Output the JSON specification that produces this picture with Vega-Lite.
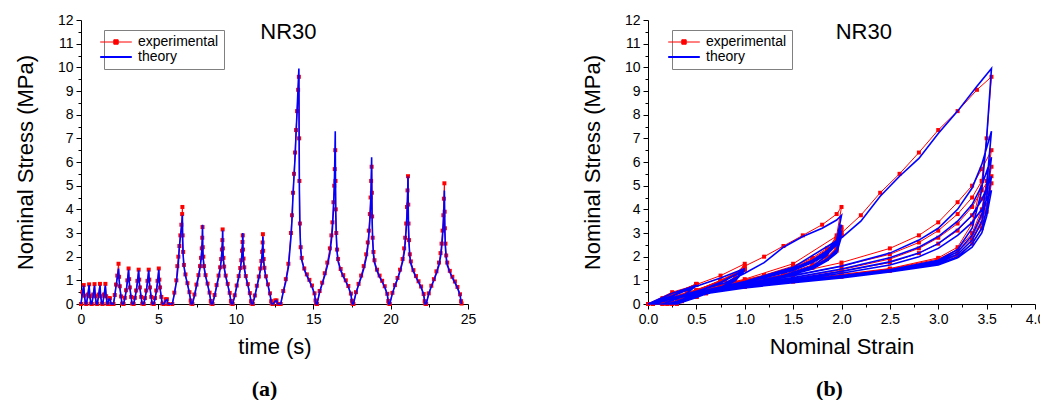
{
"$schema": "https://vega.github.io/schema/vega-lite/v6.json",
"padding": {"left": 14, "top": 13, "right": 0, "bottom": 0},
"background": "white",
"spacing": 105,
"config": {
 "view": {"stroke": null},
 "font": "Liberation Sans",
 "axis": {"domainColor": "black", "tickColor": "black", "labelColor": "black", "titleColor": "black", "labelFont": "Liberation Sans", "titleFont": "Liberation Sans", "labelFontSize": 14, "titleFontSize": 22, "titleFontWeight": "normal", "grid": false, "labelPadding": 3, "labelOverlap": false, "labelFlush": false, "tickSize": 5},
 "axisY": {"titlePadding": 20},
 "axisX": {"titlePadding": 10},
 "legend": {"orient": "none", "legendY": 10, "title": null, "strokeColor": "#808080", "fillColor": "white", "padding": 5, "labelFont": "Liberation Sans", "labelFontSize": 14, "labelColor": "black", "symbolSize": 1000, "symbolStrokeWidth": 1.5, "rowPadding": 1, "labelOffset": 15, "labelLimit": 200}
},
"resolve": {"scale": {"color": "independent"}, "legend": {"color": "independent"}},
"datasets": {"d": [
{"t":0,"e":0,"th":0,"ex":0},
{"t":0.088,"e":0.25,"th":0.45,"ex":0.5},
{"t":0.175,"e":0.5,"th":0.78,"ex":0.8},
{"t":0.228,"e":0.35,"th":0.3,"ex":0.35},
{"t":0.298,"e":0.15,"th":0,"ex":0.02},
{"t":0.35,"e":0,"th":0,"ex":0},
{"t":0.438,"e":0.25,"th":0.35,"ex":0.4},
{"t":0.525,"e":0.5,"th":0.8,"ex":0.83},
{"t":0.578,"e":0.35,"th":0.28,"ex":0.33},
{"t":0.648,"e":0.15,"th":0,"ex":0.02},
{"t":0.7,"e":0,"th":0,"ex":0},
{"t":0.788,"e":0.25,"th":0.35,"ex":0.4},
{"t":0.875,"e":0.5,"th":0.78,"ex":0.84},
{"t":0.928,"e":0.35,"th":0.28,"ex":0.33},
{"t":0.998,"e":0.15,"th":0,"ex":0.02},
{"t":1.05,"e":0,"th":0,"ex":0},
{"t":1.138,"e":0.25,"th":0.35,"ex":0.4},
{"t":1.225,"e":0.5,"th":0.79,"ex":0.85},
{"t":1.278,"e":0.35,"th":0.28,"ex":0.33},
{"t":1.348,"e":0.15,"th":0,"ex":0.02},
{"t":1.4,"e":0,"th":0,"ex":0},
{"t":1.488,"e":0.25,"th":0.35,"ex":0.4},
{"t":1.575,"e":0.5,"th":0.78,"ex":0.85},
{"t":1.628,"e":0.35,"th":0.28,"ex":0.33},
{"t":1.698,"e":0.15,"th":0,"ex":0.02},
{"t":1.75,"e":0,"th":0,"ex":0},
{"t":1.8,"e":0.15,"th":0.2,"ex":0.25},
{"t":1.87,"e":0.2,"th":0.22,"ex":0.24},
{"t":1.95,"e":0.05,"th":0,"ex":0},
{"t":2.1,"e":0,"th":0,"ex":0},
{"t":2.181,"e":0.25,"th":0.33,"ex":0.38},
{"t":2.263,"e":0.5,"th":0.75,"ex":0.82},
{"t":2.344,"e":0.75,"th":1.1,"ex":1.2},
{"t":2.425,"e":1,"th":1.5,"ex":1.7},
{"t":2.458,"e":0.9,"th":1.05,"ex":1.15},
{"t":2.506,"e":0.75,"th":0.7,"ex":0.75},
{"t":2.588,"e":0.5,"th":0.3,"ex":0.32},
{"t":2.653,"e":0.3,"th":0,"ex":0.02},
{"t":2.75,"e":0,"th":0,"ex":0},
{"t":2.831,"e":0.25,"th":0.22,"ex":0.26},
{"t":2.913,"e":0.5,"th":0.52,"ex":0.58},
{"t":2.994,"e":0.75,"th":0.92,"ex":1.0},
{"t":3.075,"e":1,"th":1.45,"ex":1.5},
{"t":3.108,"e":0.9,"th":1.0,"ex":1.05},
{"t":3.156,"e":0.75,"th":0.68,"ex":0.7},
{"t":3.238,"e":0.5,"th":0.28,"ex":0.3},
{"t":3.303,"e":0.3,"th":0,"ex":0.02},
{"t":3.4,"e":0,"th":0,"ex":0},
{"t":3.481,"e":0.25,"th":0.22,"ex":0.26},
{"t":3.563,"e":0.5,"th":0.52,"ex":0.57},
{"t":3.644,"e":0.75,"th":0.9,"ex":0.98},
{"t":3.725,"e":1,"th":1.42,"ex":1.45},
{"t":3.758,"e":0.9,"th":0.98,"ex":1.03},
{"t":3.806,"e":0.75,"th":0.66,"ex":0.7},
{"t":3.888,"e":0.5,"th":0.27,"ex":0.3},
{"t":3.953,"e":0.3,"th":0,"ex":0.02},
{"t":4.05,"e":0,"th":0,"ex":0},
{"t":4.131,"e":0.25,"th":0.21,"ex":0.25},
{"t":4.213,"e":0.5,"th":0.51,"ex":0.57},
{"t":4.294,"e":0.75,"th":0.9,"ex":0.98},
{"t":4.375,"e":1,"th":1.42,"ex":1.45},
{"t":4.408,"e":0.9,"th":0.98,"ex":1.03},
{"t":4.456,"e":0.75,"th":0.66,"ex":0.7},
{"t":4.538,"e":0.5,"th":0.27,"ex":0.3},
{"t":4.603,"e":0.3,"th":0,"ex":0.02},
{"t":4.7,"e":0,"th":0,"ex":0},
{"t":4.781,"e":0.25,"th":0.21,"ex":0.25},
{"t":4.863,"e":0.5,"th":0.51,"ex":0.57},
{"t":4.944,"e":0.75,"th":0.9,"ex":0.98},
{"t":5.025,"e":1,"th":1.45,"ex":1.5},
{"t":5.058,"e":0.9,"th":0.98,"ex":1.03},
{"t":5.106,"e":0.75,"th":0.66,"ex":0.7},
{"t":5.188,"e":0.5,"th":0.27,"ex":0.3},
{"t":5.253,"e":0.3,"th":0,"ex":0.02},
{"t":5.35,"e":0,"th":0,"ex":0},
{"t":5.47,"e":0.15,"th":0.15,"ex":0.2},
{"t":5.55,"e":0.2,"th":0.18,"ex":0.2},
{"t":5.63,"e":0.05,"th":0,"ex":0},
{"t":5.9,"e":0,"th":0,"ex":0},
{"t":6.03,"e":0.4,"th":0.42,"ex":0.48},
{"t":6.16,"e":0.8,"th":0.9,"ex":1.0},
{"t":6.225,"e":1.0,"th":1.3,"ex":1.6},
{"t":6.29,"e":1.2,"th":1.75,"ex":2.0},
{"t":6.355,"e":1.4,"th":2.4,"ex":2.45},
{"t":6.42,"e":1.6,"th":2.85,"ex":2.9},
{"t":6.485,"e":1.8,"th":3.2,"ex":3.35},
{"t":6.534,"e":1.95,"th":3.55,"ex":3.8},
{"t":6.55,"e":2.0,"th":3.75,"ex":4.1},
{"t":6.566,"e":1.95,"th":2.7,"ex":2.9},
{"t":6.599,"e":1.85,"th":2.05,"ex":2.2},
{"t":6.648,"e":1.7,"th":1.6,"ex":1.65},
{"t":6.745,"e":1.4,"th":1.2,"ex":1.25},
{"t":6.875,"e":1.0,"th":0.85,"ex":0.88},
{"t":7.005,"e":0.6,"th":0.45,"ex":0.5},
{"t":7.086,"e":0.35,"th":0.12,"ex":0.15},
{"t":7.119,"e":0.25,"th":0,"ex":0.02},
{"t":7.2,"e":0,"th":0,"ex":0},
{"t":7.33,"e":0.4,"th":0.35,"ex":0.4},
{"t":7.46,"e":0.8,"th":0.75,"ex":0.82},
{"t":7.59,"e":1.2,"th":1.15,"ex":1.22},
{"t":7.688,"e":1.5,"th":1.5,"ex":1.6},
{"t":7.753,"e":1.7,"th":1.85,"ex":1.95},
{"t":7.801,"e":1.85,"th":2.25,"ex":2.35},
{"t":7.834,"e":1.95,"th":2.7,"ex":2.8},
{"t":7.85,"e":2.0,"th":3.35,"ex":3.25},
{"t":7.866,"e":1.95,"th":2.3,"ex":2.4},
{"t":7.899,"e":1.85,"th":1.9,"ex":2.0},
{"t":7.948,"e":1.7,"th":1.55,"ex":1.6},
{"t":8.045,"e":1.4,"th":1.18,"ex":1.22},
{"t":8.175,"e":1.0,"th":0.83,"ex":0.86},
{"t":8.305,"e":0.6,"th":0.44,"ex":0.48},
{"t":8.386,"e":0.35,"th":0.1,"ex":0.13},
{"t":8.419,"e":0.25,"th":0,"ex":0.02},
{"t":8.5,"e":0,"th":0,"ex":0},
{"t":8.63,"e":0.4,"th":0.34,"ex":0.38},
{"t":8.76,"e":0.8,"th":0.74,"ex":0.8},
{"t":8.89,"e":1.2,"th":1.13,"ex":1.2},
{"t":8.988,"e":1.5,"th":1.47,"ex":1.55},
{"t":9.053,"e":1.7,"th":1.8,"ex":1.9},
{"t":9.101,"e":1.85,"th":2.2,"ex":2.3},
{"t":9.134,"e":1.95,"th":2.62,"ex":2.7},
{"t":9.15,"e":2.0,"th":3.1,"ex":3.15},
{"t":9.166,"e":1.95,"th":2.25,"ex":2.35},
{"t":9.199,"e":1.85,"th":1.88,"ex":1.95},
{"t":9.248,"e":1.7,"th":1.53,"ex":1.58},
{"t":9.345,"e":1.4,"th":1.17,"ex":1.2},
{"t":9.475,"e":1.0,"th":0.82,"ex":0.85},
{"t":9.605,"e":0.6,"th":0.43,"ex":0.47},
{"t":9.686,"e":0.35,"th":0.1,"ex":0.13},
{"t":9.719,"e":0.25,"th":0,"ex":0.02},
{"t":9.8,"e":0,"th":0,"ex":0},
{"t":9.93,"e":0.4,"th":0.33,"ex":0.37},
{"t":10.06,"e":0.8,"th":0.73,"ex":0.78},
{"t":10.19,"e":1.2,"th":1.12,"ex":1.18},
{"t":10.288,"e":1.5,"th":1.45,"ex":1.52},
{"t":10.353,"e":1.7,"th":1.78,"ex":1.85},
{"t":10.401,"e":1.85,"th":2.15,"ex":2.25},
{"t":10.434,"e":1.95,"th":2.55,"ex":2.62},
{"t":10.45,"e":2.0,"th":3.0,"ex":2.9},
{"t":10.466,"e":1.95,"th":2.2,"ex":2.3},
{"t":10.499,"e":1.85,"th":1.85,"ex":1.92},
{"t":10.548,"e":1.7,"th":1.5,"ex":1.55},
{"t":10.645,"e":1.4,"th":1.15,"ex":1.18},
{"t":10.775,"e":1.0,"th":0.81,"ex":0.84},
{"t":10.905,"e":0.6,"th":0.42,"ex":0.46},
{"t":10.986,"e":0.35,"th":0.1,"ex":0.12},
{"t":11.019,"e":0.25,"th":0,"ex":0.02},
{"t":11.1,"e":0,"th":0,"ex":0},
{"t":11.23,"e":0.4,"th":0.33,"ex":0.36},
{"t":11.36,"e":0.8,"th":0.72,"ex":0.77},
{"t":11.49,"e":1.2,"th":1.1,"ex":1.16},
{"t":11.588,"e":1.5,"th":1.42,"ex":1.5},
{"t":11.653,"e":1.7,"th":1.75,"ex":1.82},
{"t":11.701,"e":1.85,"th":2.1,"ex":2.2},
{"t":11.734,"e":1.95,"th":2.5,"ex":2.6},
{"t":11.75,"e":2.0,"th":2.85,"ex":2.95},
{"t":11.766,"e":1.95,"th":2.15,"ex":2.25},
{"t":11.799,"e":1.85,"th":1.82,"ex":1.9},
{"t":11.848,"e":1.7,"th":1.48,"ex":1.53},
{"t":11.945,"e":1.4,"th":1.14,"ex":1.17},
{"t":12.075,"e":1.0,"th":0.8,"ex":0.83},
{"t":12.205,"e":0.6,"th":0.42,"ex":0.45},
{"t":12.286,"e":0.35,"th":0.1,"ex":0.12},
{"t":12.319,"e":0.25,"th":0,"ex":0.02},
{"t":12.4,"e":0,"th":0,"ex":0},
{"t":12.55,"e":0.15,"th":0.12,"ex":0.15},
{"t":12.63,"e":0.2,"th":0.15,"ex":0.15},
{"t":12.72,"e":0.05,"th":0,"ex":0},
{"t":12.9,"e":0,"th":0,"ex":0},
{"t":13.066,"e":0.5,"th":0.5,"ex":0.55},
{"t":13.231,"e":1.0,"th":0.95,"ex":1.05},
{"t":13.397,"e":1.5,"th":1.55,"ex":1.7},
{"t":13.562,"e":2.0,"th":2.8,"ex":3.0},
{"t":13.628,"e":2.2,"th":3.5,"ex":3.75},
{"t":13.694,"e":2.4,"th":4.55,"ex":4.7},
{"t":13.761,"e":2.6,"th":5.4,"ex":5.5},
{"t":13.827,"e":2.8,"th":6.15,"ex":6.4},
{"t":13.893,"e":3.0,"th":7.2,"ex":7.35},
{"t":13.959,"e":3.2,"th":8.15,"ex":8.15},
{"t":14.025,"e":3.4,"th":9.2,"ex":9.05},
{"t":14.075,"e":3.55,"th":9.95,"ex":9.6},
{"t":14.092,"e":3.5,"th":7.0,"ex":7.0},
{"t":14.108,"e":3.45,"th":4.8,"ex":5.2},
{"t":14.141,"e":3.35,"th":3.2,"ex":3.4},
{"t":14.191,"e":3.2,"th":2.3,"ex":2.4},
{"t":14.257,"e":3.0,"th":1.85,"ex":1.95},
{"t":14.423,"e":2.5,"th":1.45,"ex":1.5},
{"t":14.588,"e":2.0,"th":1.2,"ex":1.25},
{"t":14.754,"e":1.5,"th":0.97,"ex":1.02},
{"t":14.919,"e":1.0,"th":0.73,"ex":0.78},
{"t":15.085,"e":0.5,"th":0.42,"ex":0.45},
{"t":15.151,"e":0.3,"th":0.12,"ex":0.15},
{"t":15.184,"e":0.2,"th":0,"ex":0.02},
{"t":15.25,"e":0,"th":0,"ex":0},
{"t":15.416,"e":0.5,"th":0.5,"ex":0.55},
{"t":15.581,"e":1.0,"th":0.85,"ex":0.9},
{"t":15.747,"e":1.5,"th":1.2,"ex":1.3},
{"t":15.912,"e":2.0,"th":1.6,"ex":1.75},
{"t":16.077,"e":2.5,"th":2.15,"ex":2.35},
{"t":16.177,"e":2.8,"th":2.7,"ex":2.9},
{"t":16.243,"e":3.0,"th":3.2,"ex":3.45},
{"t":16.309,"e":3.2,"th":4.0,"ex":4.3},
{"t":16.359,"e":3.35,"th":4.9,"ex":5.0},
{"t":16.392,"e":3.45,"th":5.9,"ex":5.7},
{"t":16.425,"e":3.55,"th":7.3,"ex":6.5},
{"t":16.442,"e":3.5,"th":5.0,"ex":5.2},
{"t":16.458,"e":3.45,"th":3.8,"ex":4.0},
{"t":16.491,"e":3.35,"th":2.9,"ex":3.0},
{"t":16.541,"e":3.2,"th":2.2,"ex":2.3},
{"t":16.607,"e":3.0,"th":1.8,"ex":1.9},
{"t":16.773,"e":2.5,"th":1.42,"ex":1.48},
{"t":16.938,"e":2.0,"th":1.17,"ex":1.22},
{"t":17.104,"e":1.5,"th":0.95,"ex":1.0},
{"t":17.269,"e":1.0,"th":0.72,"ex":0.76},
{"t":17.435,"e":0.5,"th":0.41,"ex":0.44},
{"t":17.501,"e":0.3,"th":0.11,"ex":0.14},
{"t":17.534,"e":0.2,"th":0,"ex":0.02},
{"t":17.6,"e":0,"th":0,"ex":0},
{"t":17.766,"e":0.5,"th":0.47,"ex":0.5},
{"t":17.931,"e":1.0,"th":0.8,"ex":0.85},
{"t":18.097,"e":1.5,"th":1.12,"ex":1.2},
{"t":18.262,"e":2.0,"th":1.48,"ex":1.6},
{"t":18.427,"e":2.5,"th":1.95,"ex":2.1},
{"t":18.527,"e":2.8,"th":2.4,"ex":2.6},
{"t":18.593,"e":3.0,"th":2.85,"ex":3.1},
{"t":18.659,"e":3.2,"th":3.5,"ex":3.8},
{"t":18.709,"e":3.35,"th":4.2,"ex":4.5},
{"t":18.742,"e":3.45,"th":5.0,"ex":5.2},
{"t":18.775,"e":3.55,"th":6.2,"ex":5.8},
{"t":18.792,"e":3.5,"th":4.5,"ex":4.7},
{"t":18.808,"e":3.45,"th":3.5,"ex":3.7},
{"t":18.841,"e":3.35,"th":2.7,"ex":2.8},
{"t":18.891,"e":3.2,"th":2.1,"ex":2.2},
{"t":18.957,"e":3.0,"th":1.75,"ex":1.85},
{"t":19.123,"e":2.5,"th":1.4,"ex":1.45},
{"t":19.288,"e":2.0,"th":1.15,"ex":1.2},
{"t":19.454,"e":1.5,"th":0.94,"ex":0.98},
{"t":19.619,"e":1.0,"th":0.71,"ex":0.75},
{"t":19.785,"e":0.5,"th":0.4,"ex":0.43},
{"t":19.851,"e":0.3,"th":0.1,"ex":0.13},
{"t":19.884,"e":0.2,"th":0,"ex":0.02},
{"t":19.95,"e":0,"th":0,"ex":0},
{"t":20.116,"e":0.5,"th":0.45,"ex":0.47},
{"t":20.281,"e":1.0,"th":0.77,"ex":0.8},
{"t":20.447,"e":1.5,"th":1.05,"ex":1.1},
{"t":20.612,"e":2.0,"th":1.38,"ex":1.45},
{"t":20.777,"e":2.5,"th":1.78,"ex":1.9},
{"t":20.877,"e":2.8,"th":2.15,"ex":2.35},
{"t":20.943,"e":3.0,"th":2.55,"ex":2.8},
{"t":21.009,"e":3.2,"th":3.15,"ex":3.4},
{"t":21.059,"e":3.35,"th":3.75,"ex":4.1},
{"t":21.092,"e":3.45,"th":4.4,"ex":4.8},
{"t":21.125,"e":3.55,"th":5.4,"ex":5.4},
{"t":21.142,"e":3.5,"th":4.0,"ex":4.2},
{"t":21.158,"e":3.45,"th":3.2,"ex":3.4},
{"t":21.191,"e":3.35,"th":2.55,"ex":2.7},
{"t":21.241,"e":3.2,"th":2.0,"ex":2.1},
{"t":21.307,"e":3.0,"th":1.7,"ex":1.8},
{"t":21.473,"e":2.5,"th":1.38,"ex":1.43},
{"t":21.638,"e":2.0,"th":1.13,"ex":1.18},
{"t":21.804,"e":1.5,"th":0.92,"ex":0.96},
{"t":21.969,"e":1.0,"th":0.7,"ex":0.74},
{"t":22.135,"e":0.5,"th":0.4,"ex":0.42},
{"t":22.201,"e":0.3,"th":0.1,"ex":0.12},
{"t":22.234,"e":0.2,"th":0,"ex":0.02},
{"t":22.3,"e":0,"th":0,"ex":0},
{"t":22.466,"e":0.5,"th":0.43,"ex":0.45},
{"t":22.631,"e":1.0,"th":0.74,"ex":0.77},
{"t":22.797,"e":1.5,"th":1.0,"ex":1.05},
{"t":22.962,"e":2.0,"th":1.3,"ex":1.38},
{"t":23.127,"e":2.5,"th":1.65,"ex":1.75},
{"t":23.227,"e":2.8,"th":2.0,"ex":2.15},
{"t":23.293,"e":3.0,"th":2.35,"ex":2.55},
{"t":23.359,"e":3.2,"th":2.9,"ex":3.1},
{"t":23.409,"e":3.35,"th":3.45,"ex":3.75},
{"t":23.442,"e":3.45,"th":4.0,"ex":4.45},
{"t":23.475,"e":3.55,"th":4.8,"ex":5.1},
{"t":23.492,"e":3.5,"th":3.7,"ex":3.9},
{"t":23.508,"e":3.45,"th":3.0,"ex":3.2},
{"t":23.541,"e":3.35,"th":2.4,"ex":2.55},
{"t":23.591,"e":3.2,"th":1.95,"ex":2.05},
{"t":23.657,"e":3.0,"th":1.65,"ex":1.75},
{"t":23.823,"e":2.5,"th":1.35,"ex":1.4},
{"t":23.988,"e":2.0,"th":1.1,"ex":1.15},
{"t":24.154,"e":1.5,"th":0.9,"ex":0.95},
{"t":24.319,"e":1.0,"th":0.68,"ex":0.72},
{"t":24.485,"e":0.5,"th":0.38,"ex":0.41},
{"t":24.551,"e":0.3,"th":0.1,"ex":0.12},
{"t":24.584,"e":0.2,"th":0,"ex":0.02}
]},
"hconcat": [
 {
  "width": 387, "height": 284,
  "title": {"text": "(a)", "orient": "bottom", "anchor": "middle", "font": "Liberation Serif", "fontSize": 22, "fontWeight": "bold", "color": "black", "offset": 22, "dx": -10},
  "encoding": {
   "x": {"field": "t", "type": "quantitative", "scale": {"domain": [0, 25], "nice": false}, "title": "time (s)",
         "axis": {"labelOverlap": false, "values": [0,2.5,5,7.5,10,12.5,15,17.5,20,22.5,25], "labelExpr": "datum.value % 5 === 0 ? format(datum.value, '.0f') : ''", "tickSize": {"condition": {"test": "datum.value % 5 === 0", "value": 5}, "value": 3}}},
   "y": {"field": "s", "type": "quantitative", "scale": {"domain": [0, 12], "nice": false}, "title": "Nominal Stress (MPa)",
         "axis": {"labelOverlap": false, "values": [0,0.5,1,1.5,2,2.5,3,3.5,4,4.5,5,5.5,6,6.5,7,7.5,8,8.5,9,9.5,10,10.5,11,11.5,12], "labelExpr": "datum.value % 1 === 0 ? format(datum.value, '.0f') : ''", "tickSize": {"condition": {"test": "datum.value % 1 === 0", "value": 5}, "value": 3}}}
  },
  "layer": [
   {
    "data": {"name": "d"},
    "transform": [{"fold": ["ex", "th"], "as": ["k", "s"]}, {"filter": "datum.k === 'ex'"}],
    "mark": {"type": "line", "strokeWidth": 1, "point": {"shape": "square", "size": 16, "filled": true, "opacity": 1}},
    "encoding": {
     "color": {"datum": "experimental", "scale": {"domain": ["experimental", "theory"], "range": ["#ff0000", "#0000ff"]},
      "legend": {"legendX": 23,
        "encode": {"symbols": {"update": {
          "shape": {"signal": "datum.value === 'experimental' ? 'M-1,0H1M-0.14,-0.14H0.14V0.14H-0.14Z' : 'M-1,0H1'"},
          "fill": {"signal": "datum.value === 'experimental' ? '#ff0000' : 'transparent'"},
          "strokeWidth": {"signal": "datum.value === 'experimental' ? 1 : 2"}}}}}}
    }
   },
   {
    "data": {"name": "d"},
    "transform": [{"fold": ["ex", "th"], "as": ["k", "s"]}, {"filter": "datum.k === 'th'"}],
    "mark": {"type": "line", "strokeWidth": 1.6},
    "encoding": {"color": {"datum": "theory"}}
   },
   {
    "data": {"values": [{"label": "NR30", "t": 13.4, "s": 11.5}]},
    "mark": {"type": "text", "font": "Liberation Sans", "fontSize": 22, "color": "black", "baseline": "middle", "align": "center"},
    "encoding": {"text": {"field": "label"}}
   }
  ]
 },
 {
  "width": 387, "height": 284,
  "title": {"text": "(b)", "orient": "bottom", "anchor": "middle", "font": "Liberation Serif", "fontSize": 22, "fontWeight": "bold", "color": "black", "offset": 22, "dx": -12},
  "encoding": {
   "x": {"field": "e", "type": "quantitative", "scale": {"domain": [0, 4], "nice": false}, "title": "Nominal Strain",
         "axis": {"labelOverlap": false, "values": [0,0.25,0.5,0.75,1,1.25,1.5,1.75,2,2.25,2.5,2.75,3,3.25,3.5,3.75,4], "labelExpr": "datum.value % 0.5 === 0 ? format(datum.value, '.1f') : ''", "tickSize": {"condition": {"test": "datum.value % 0.5 === 0", "value": 5}, "value": 3}}},
   "y": {"field": "s", "type": "quantitative", "scale": {"domain": [0, 12], "nice": false}, "title": "Nominal Stress (MPa)",
         "axis": {"labelOverlap": false, "values": [0,0.5,1,1.5,2,2.5,3,3.5,4,4.5,5,5.5,6,6.5,7,7.5,8,8.5,9,9.5,10,10.5,11,11.5,12], "labelExpr": "datum.value % 1 === 0 ? format(datum.value, '.0f') : ''", "tickSize": {"condition": {"test": "datum.value % 1 === 0", "value": 5}, "value": 3}}}
  },
  "layer": [
   {
    "data": {"name": "d"},
    "transform": [{"fold": ["ex", "th"], "as": ["k", "s"]}, {"filter": "datum.k === 'ex'"}],
    "mark": {"type": "line", "strokeWidth": 1, "point": {"shape": "square", "size": 16, "filled": true, "opacity": 1}},
    "encoding": {
     "order": {"field": "t", "type": "quantitative"},
     "color": {"datum": "experimental", "scale": {"domain": ["experimental", "theory"], "range": ["#ff0000", "#0000ff"]},
      "legend": {"legendX": 24,
        "encode": {"symbols": {"update": {
          "shape": {"signal": "datum.value === 'experimental' ? 'M-1,0H1M-0.14,-0.14H0.14V0.14H-0.14Z' : 'M-1,0H1'"},
          "fill": {"signal": "datum.value === 'experimental' ? '#ff0000' : 'transparent'"},
          "strokeWidth": {"signal": "datum.value === 'experimental' ? 1 : 2"}}}}}}
    }
   },
   {
    "data": {"name": "d"},
    "transform": [{"fold": ["ex", "th"], "as": ["k", "s"]}, {"filter": "datum.k === 'th'"}],
    "mark": {"type": "line", "strokeWidth": 1.6},
    "encoding": {"order": {"field": "t", "type": "quantitative"}, "color": {"datum": "theory"}}
   },
   {
    "data": {"values": [{"label": "NR30", "e": 2.23, "s": 11.5}]},
    "mark": {"type": "text", "font": "Liberation Sans", "fontSize": 22, "color": "black", "baseline": "middle", "align": "center"},
    "encoding": {"text": {"field": "label"}}
   }
  ]
 }
]
}
